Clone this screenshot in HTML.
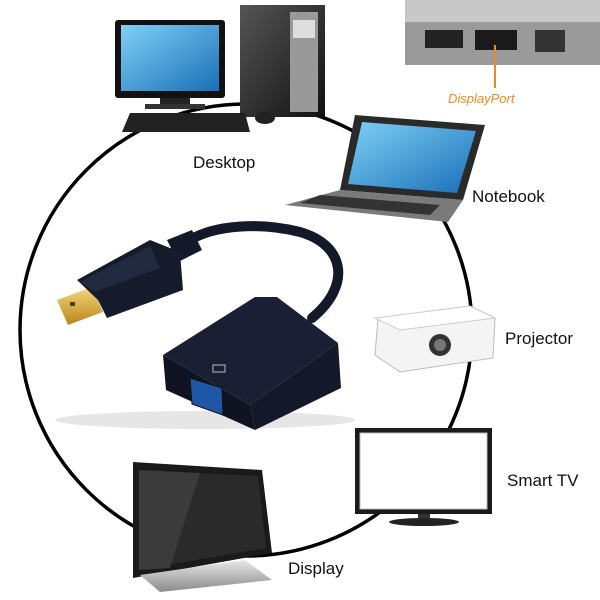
<!DOCTYPE html>
<html><head><meta charset="utf-8"><style>
html,body{margin:0;padding:0;background:#fff;}
svg{display:block}
text{font-family:"Liberation Sans",sans-serif;fill:#111;font-size:17px}
</style></head><body>
<svg width="600" height="600" viewBox="0 0 600 600" xmlns="http://www.w3.org/2000/svg">
<defs>
<linearGradient id="scr" x1="0" y1="0" x2="1" y2="1"><stop offset="0" stop-color="#7fd0f5"/><stop offset="1" stop-color="#1a6fb8"/></linearGradient>
<linearGradient id="dk" x1="0" y1="0" x2="1" y2="1"><stop offset="0" stop-color="#555"/><stop offset="1" stop-color="#111"/></linearGradient>
<linearGradient id="gold" x1="0" y1="0" x2="0" y2="1"><stop offset="0" stop-color="#f5d77a"/><stop offset="1" stop-color="#b8861f"/></linearGradient>
<linearGradient id="sil" x1="0" y1="0" x2="0" y2="1"><stop offset="0" stop-color="#e8e8e8"/><stop offset="1" stop-color="#8a8a8a"/></linearGradient>
</defs>
<rect width="600" height="600" fill="#fff"/>
<circle cx="246" cy="330" r="226" fill="none" stroke="#000" stroke-width="3.5"/>

<rect x="405" y="0" width="195" height="65" fill="#9a9a9a"/>
<rect x="405" y="0" width="195" height="22" fill="#c8c8c8"/>
<rect x="425" y="30" width="38" height="18" fill="#222"/>
<rect x="475" y="30" width="42" height="20" fill="#1a1a1a"/>
<rect x="535" y="30" width="30" height="22" fill="#333"/>
<line x1="495" y1="45" x2="495" y2="88" stroke="#f08a1c" stroke-width="2"/>
<text x="448" y="103" style="fill:#f08a1c;font-size:13px;font-style:italic">DisplayPort</text>

<rect x="115" y="20" width="110" height="78" rx="3" fill="#111"/>
<rect x="121" y="25" width="98" height="66" fill="url(#scr)"/>
<rect x="160" y="98" width="30" height="8" fill="#222"/>
<rect x="145" y="104" width="60" height="5" fill="#333"/>
<rect x="240" y="5" width="85" height="112" fill="url(#dk)"/>
<rect x="290" y="12" width="28" height="100" fill="#999"/>
<rect x="293" y="20" width="22" height="18" fill="#ddd"/>
<polygon points="130,113 245,113 250,132 122,132" fill="#222"/>
<ellipse cx="265" cy="118" rx="10" ry="6" fill="#222"/>
<text x="193" y="168">Desktop</text>

<polygon points="355,115 485,125 463,200 340,190" fill="#2a2a2a"/>
<polygon points="362,122 476,131 457,193 348,184" fill="url(#scr)"/>
<polygon points="340,190 463,200 448,222 285,205" fill="#7a7a7a"/>
<polygon points="320,195 440,205 430,215 300,203" fill="#333"/>
<text x="472" y="202">Notebook</text>

<polygon points="378,318 470,306 495,318 493,358 400,372 375,355" fill="#f4f4f4" stroke="#bbb"/>
<polygon points="375,318 470,306 495,318 400,330" fill="#fff" stroke="#ccc"/>
<circle cx="440" cy="345" r="11" fill="#333"/>
<circle cx="440" cy="345" r="6" fill="#777"/>
<text x="505" y="344">Projector</text>

<rect x="355" y="428" width="137" height="86" fill="#1a1a1a"/>
<rect x="360" y="433" width="127" height="76" fill="#fff" stroke="#bbb"/>
<rect x="418" y="514" width="12" height="8" fill="#333"/>
<ellipse cx="424" cy="522" rx="35" ry="4" fill="#222"/>
<text x="507" y="486">Smart TV</text>

<polygon points="133,462 262,470 272,553 133,578" fill="#1a1a1a"/>
<polygon points="139,470 258,476 266,548 139,570" fill="#2a2a2a"/>
<polygon points="139,470 200,473 170,568 139,570" fill="#3b3b3b"/>
<polygon points="140,575 245,560 272,580 160,592" fill="url(#sil)"/>
<text x="288" y="574">Display</text>

<!-- adapter -->
<ellipse cx="205" cy="420" rx="150" ry="9" fill="#e6e6e6"/>
<path d="M190,240 C215,225 260,222 300,232 C345,245 352,285 312,318" fill="none" stroke="#14192a" stroke-width="10" stroke-linecap="round"/>
<polygon points="167,240 192,230 202,250 178,262" fill="#14192a"/>
<polygon points="57,300 92,287 103,312 68,325" fill="url(#gold)"/>
<rect x="70" y="302" width="5" height="4" fill="#5a3c10"/>
<polygon points="77,280 150,240 180,252 183,290 107,318 98,300" fill="#161b2c"/>
<polygon points="80,282 150,246 160,268 95,292" fill="#222a40"/>
<polygon points="163,355 255,297 277,297 338,343 250,405" fill="#1a1f33"/>
<polygon points="163,355 250,405 255,430 166,390" fill="#0f1322"/>
<polygon points="250,405 338,343 341,388 255,430" fill="#14192a"/>
<polygon points="190,378 222,388 223,415 192,404" fill="#1f57a6" stroke="#111"/>
<rect x="213" y="365" width="12" height="7" fill="none" stroke="#bbb"/>
</svg>
</body></html>
